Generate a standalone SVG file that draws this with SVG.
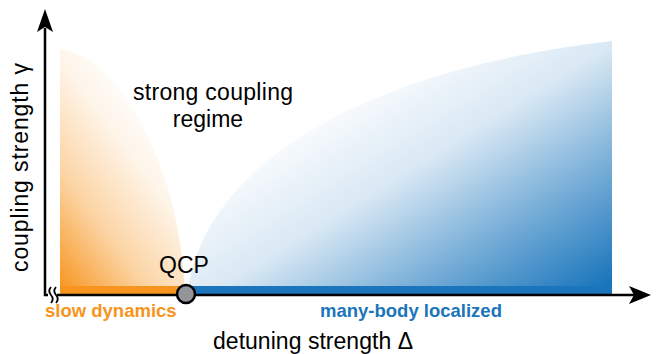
<svg xmlns="http://www.w3.org/2000/svg" width="660" height="354" viewBox="0 0 660 354">
<style>
.lbl{font-family:"Liberation Sans",Arial,Helvetica,sans-serif;font-size:23px;fill:#000}
.reg{font-family:"Liberation Sans",Arial,Helvetica,sans-serif;font-size:18.5px;font-weight:bold}
.axis{stroke:#000;stroke-width:2.5;fill:none}
</style>
<defs>
<linearGradient id="gOr" gradientUnits="userSpaceOnUse" x1="60" y1="292" x2="196" y2="190">
<stop offset="0" stop-color="#f7941d" stop-opacity="1"/>
<stop offset="0.43" stop-color="#f7941d" stop-opacity="0.4"/>
<stop offset="0.82" stop-color="#f7941d" stop-opacity="0.1"/>
<stop offset="1" stop-color="#f7941d" stop-opacity="0.03"/>
</linearGradient>
<linearGradient id="gBl" gradientUnits="userSpaceOnUse" x1="612" y1="293" x2="454" y2="38">
<stop offset="0" stop-color="#1070b9" stop-opacity="1"/>
<stop offset="0.36" stop-color="#1070b9" stop-opacity="0.58"/>
<stop offset="0.7" stop-color="#1070b9" stop-opacity="0.16"/>
<stop offset="1" stop-color="#1070b9" stop-opacity="0.03"/>
</linearGradient>
</defs>
<g id="regions">
<path id="slow-region" d="M60,292 L60,50 C110,50 178,150 185,292 Z" fill="url(#gOr)"/>
<path id="mbl-region" d="M188,292 C198,190 320,75 612,41 L612,292 Z" fill="url(#gBl)"/>
<rect x="60" y="286" width="126" height="8" fill="#f7941d"/>
<rect x="186" y="286" width="426" height="8" fill="#1a75bc"/>
</g>
<g id="axes">
<path class="axis" d="M45,28 L45,295 L48,295"/>
<path class="axis" d="M57,295 L634,295"/>
<path d="M45,9 L53,32 L45,27 L37,32 Z" fill="#000"/>
<path d="M651,295 L629,286 L634,295 L629,304 Z" fill="#000"/>
<path d="M51,287 q-3.5,4 0,8 q3.5,4 0,8 M56,287 q-3.5,4 0,8 q3.5,4 0,8" stroke="#000" stroke-width="1.8" fill="none"/>
</g>
<g id="qcp">
<circle cx="186" cy="294" r="9" fill="#939598" stroke="#000" stroke-width="2.5"/>
<text class="lbl" x="184" y="273" text-anchor="middle" font-size="22">QCP</text>
</g>
<g id="labels">
<text class="lbl" x="213" y="100" text-anchor="middle" textLength="160">strong coupling</text>
<text class="lbl" x="208" y="127" text-anchor="middle">regime</text>
<text class="reg" x="45" y="317" fill="#f7941d">slow dynamics</text>
<text class="reg" x="320" y="317" fill="#1b75bb">many-body localized</text>
<text class="lbl" x="313" y="349" text-anchor="middle" textLength="200">detuning strength Δ</text>
<text class="lbl" transform="translate(28,167.5) rotate(-90)" text-anchor="middle" textLength="209">coupling strength γ</text>
</g>
</svg>
